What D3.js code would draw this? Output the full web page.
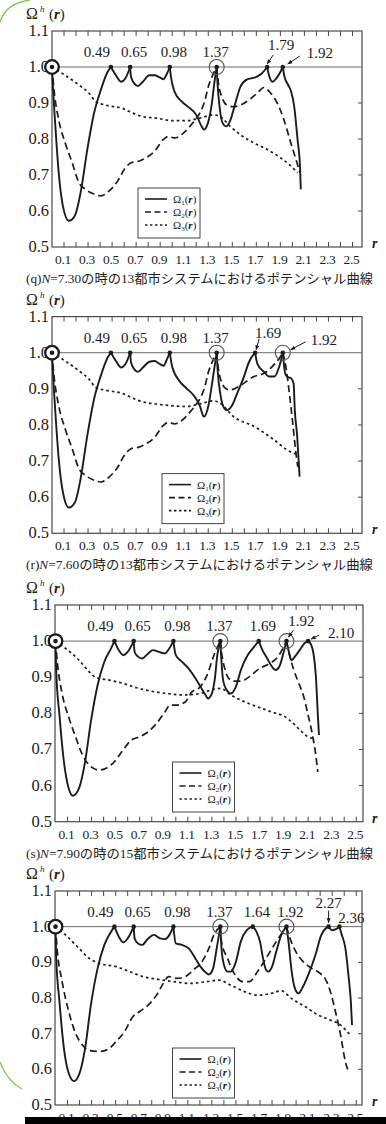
<!DOCTYPE html>
<html><head><meta charset="utf-8">
<script src="https://cdn.jsdelivr.net/npm/d3@7"></script>
<style>body{margin:0;background:#fff;} svg{display:block;}</style>
</head><body>
<svg id="c" width="386" height="1124"></svg>
<script>
// ---------- tick values / labels ----------
const xTickValues = [0.1,0.2,0.3,0.4,0.5,0.6,0.7,0.8,0.9,1.0,1.1,1.2,1.3,1.4,1.5,1.6,1.7,1.8,1.9,2.0,2.1,2.2,2.3,2.4,2.5];
const xTickLabels = ["0.1","0.3","0.5","0.7","0.9","1.1","1.3","1.5","1.7","1.9","2.1","2.3","2.5"];
const yTickLabels = ["1.1","1.0","0.9","0.8","0.7","0.6","0.5"];
const rightTickValues = [0.9,0.8,0.7,0.6];
const captions = [
  "(q)N=7.30の時の13都市システムにおけるポテンシャル曲線",
  "(r)N=7.60の時の13都市システムにおけるポテンシャル曲線",
  "(s)N=7.90の時の15都市システムにおけるポテンシャル曲線",
  ""
];
const legendNames = ["1","2","3"];

// ---------- panel (q) N=7.30 ----------
const qSolid = [[0,1.0],[0.008,0.945],[0.028,0.835],[0.056,0.706],[0.09,0.615],[0.14,0.573],[0.19,0.587],[0.238,0.651],[0.294,0.771],[0.35,0.872],[0.406,0.936],[0.462,0.986],[0.49,1.0],
 [0.532,0.977],[0.574,0.959],[0.61,0.968],[0.65,1.0],
 [0.658,0.972],[0.686,0.954],[0.714,0.947],[0.756,0.959],[0.81,0.977],[0.854,0.977],[0.896,0.971],[0.93,0.966],[0.95,0.977],[0.98,1.0],
 [0.99,0.972],[1.02,0.931],[1.08,0.904],[1.13,0.89],[1.2,0.867],[1.245,0.835],[1.265,0.826],[1.287,0.835],[1.33,0.899],[1.35,0.954],[1.37,1.0],
 [1.377,0.954],[1.394,0.89],[1.42,0.844],[1.45,0.835],[1.48,0.849],[1.525,0.899],[1.567,0.945],[1.62,0.965],[1.69,0.971],[1.745,0.982],[1.79,1.0],
 [1.805,0.977],[1.835,0.959],[1.865,0.968],[1.90,0.986],[1.92,1.0],
 [1.935,0.972],[1.965,0.95],[1.99,0.931],[2.015,0.89],[2.043,0.798],[2.063,0.725],[2.07,0.66]];
const qDashed = [[0,1.0],[0.014,0.945],[0.056,0.853],[0.11,0.789],[0.168,0.734],[0.224,0.679],[0.28,0.66],[0.35,0.647],[0.406,0.642],[0.476,0.656],[0.546,0.683],[0.602,0.716],[0.658,0.734],[0.728,0.739],[0.784,0.748],[0.854,0.766],[0.924,0.798],[0.966,0.807],[1.02,0.803],[1.078,0.812],[1.134,0.83],[1.19,0.853],[1.23,0.872],[1.273,0.908],[1.30,0.945],[1.33,0.972],[1.37,1.0],
 [1.385,0.954],[1.413,0.917],[1.455,0.894],[1.51,0.89],[1.567,0.894],[1.637,0.908],[1.707,0.927],[1.763,0.943],[1.82,0.927],[1.875,0.899],[1.93,0.853],[1.987,0.789],[2.03,0.743],[2.063,0.706]];
const qDotted = [[0,1.0],[0.11,0.977],[0.224,0.95],[0.308,0.927],[0.364,0.904],[0.448,0.894],[0.588,0.885],[0.672,0.872],[0.756,0.862],[0.868,0.858],[1.008,0.851],[1.12,0.851],[1.23,0.858],[1.343,0.867],[1.40,0.862],[1.483,0.835],[1.567,0.812],[1.68,0.789],[1.79,0.771],[1.90,0.748],[1.987,0.725],[2.043,0.706]];
const qPeaks = [0.49,0.65,0.98,1.37,1.79,1.92];
const qPeakLabels = ["0.49","0.65","0.98","1.37","1.79","1.92"];
const qRings = [1.37];

// ---------- panel (r) N=7.60 ----------
const rSolid = [[0,1.0],[0.008,0.945],[0.028,0.835],[0.056,0.706],[0.09,0.615],[0.14,0.571],[0.19,0.585],[0.238,0.651],[0.294,0.771],[0.35,0.872],[0.406,0.936],[0.462,0.986],[0.49,1.0],
 [0.532,0.977],[0.574,0.959],[0.61,0.968],[0.65,1.0],
 [0.658,0.972],[0.686,0.954],[0.714,0.947],[0.756,0.959],[0.81,0.975],[0.854,0.977],[0.896,0.969],[0.93,0.964],[0.95,0.977],[0.98,1.0],
 [1.0,0.961],[1.064,0.92],[1.12,0.901],[1.176,0.883],[1.232,0.851],[1.255,0.827],[1.266,0.823],[1.30,0.851],[1.336,0.924],[1.37,1.0],
 [1.378,0.952],[1.40,0.887],[1.434,0.846],[1.456,0.841],[1.50,0.855],[1.54,0.887],[1.597,0.934],[1.64,0.975],[1.69,1.0],
 [1.708,0.97],[1.764,0.947],[1.806,0.934],[1.85,0.934],[1.89,0.961],[1.92,1.0],
 [1.94,0.943],[1.955,0.934],[1.99,0.929],[2.01,0.915],[2.02,0.841],[2.04,0.768],[2.05,0.712],[2.06,0.657]];
const rDashed = [[0,1.0],[0.014,0.945],[0.056,0.853],[0.11,0.789],[0.168,0.734],[0.224,0.679],[0.28,0.66],[0.35,0.647],[0.406,0.642],[0.476,0.656],[0.546,0.683],[0.602,0.716],[0.658,0.734],[0.728,0.739],[0.784,0.748],[0.854,0.766],[0.924,0.798],[0.966,0.807],[1.02,0.803],[1.078,0.812],[1.134,0.83],[1.19,0.853],[1.23,0.872],[1.273,0.908],[1.30,0.945],[1.33,0.972],[1.37,1.0],
 [1.385,0.954],[1.413,0.917],[1.45,0.9],[1.48,0.897],[1.57,0.91],[1.68,0.934],[1.764,0.943],[1.83,0.961],[1.89,0.984],[1.92,1.0],
 [1.946,0.961],[1.975,0.887],[2.0,0.814],[2.03,0.721],[2.045,0.684]];
const rDotted = [[0,1.0],[0.11,0.977],[0.224,0.95],[0.308,0.927],[0.364,0.904],[0.448,0.896],[0.588,0.887],[0.672,0.874],[0.756,0.864],[0.868,0.858],[1.008,0.853],[1.12,0.851],[1.23,0.858],[1.343,0.867],[1.40,0.86],[1.51,0.823],[1.68,0.796],[1.85,0.758],[1.96,0.73],[2.045,0.717]];
const rPeaks = [0.49,0.65,0.98,1.37,1.69,1.92];
const rPeakLabels = ["0.49","0.65","0.98","1.37","1.69","1.92"];
const rRings = [1.37,1.92];

// ---------- panel (s) N=7.90 ----------
const sSolid = [[0,1.0],[0.005,0.924],[0.033,0.795],[0.07,0.666],[0.11,0.592],[0.145,0.572],[0.195,0.592],[0.246,0.666],[0.294,0.777],[0.35,0.878],[0.406,0.943],[0.462,0.98],[0.49,1.0],
 [0.526,0.975],[0.565,0.961],[0.60,0.97],[0.65,1.0],
 [0.658,0.97],[0.686,0.957],[0.72,0.952],[0.77,0.966],[0.81,0.975],[0.86,0.97],[0.91,0.966],[0.947,0.98],[0.98,1.0],
 [1.0,0.961],[1.05,0.943],[1.107,0.924],[1.163,0.897],[1.205,0.874],[1.247,0.851],[1.267,0.841],[1.295,0.851],[1.325,0.897],[1.345,0.961],[1.37,1.0],
 [1.378,0.952],[1.396,0.887],[1.424,0.864],[1.457,0.855],[1.5,0.874],[1.541,0.92],[1.597,0.961],[1.64,0.98],[1.69,1.0],
 [1.72,0.975],[1.76,0.952],[1.80,0.929],[1.83,0.92],[1.86,0.929],[1.89,0.961],[1.92,1.0],
 [1.94,0.97],[1.96,0.947],[1.99,0.957],[2.03,0.975],[2.07,0.994],[2.10,1.0],
 [2.125,0.99],[2.145,0.965],[2.165,0.9],[2.18,0.8],[2.19,0.74]];
const sDashed = [[0,1.0],[0.014,0.945],[0.056,0.853],[0.11,0.789],[0.168,0.734],[0.224,0.685],[0.28,0.657],[0.364,0.643],[0.42,0.648],[0.49,0.666],[0.56,0.698],[0.63,0.726],[0.70,0.735],[0.77,0.749],[0.84,0.772],[0.91,0.804],[0.953,0.823],[1.01,0.823],[1.08,0.832],[1.135,0.86],[1.19,0.869],[1.26,0.906],[1.317,0.961],[1.37,1.0],
 [1.38,0.97],[1.407,0.924],[1.44,0.897],[1.485,0.889],[1.54,0.889],[1.61,0.901],[1.696,0.924],[1.78,0.938],[1.85,0.957],[1.89,0.98],[1.92,1.0],
 [1.94,0.97],[1.977,0.924],[2.018,0.887],[2.06,0.85],[2.10,0.795],[2.136,0.74],[2.164,0.684],[2.18,0.638]];
const sDotted = [[0,1.0],[0.083,0.98],[0.196,0.947],[0.28,0.915],[0.336,0.899],[0.448,0.892],[0.56,0.883],[0.673,0.871],[0.785,0.862],[0.925,0.855],[1.065,0.851],[1.205,0.855],[1.317,0.867],[1.373,0.869],[1.457,0.851],[1.57,0.832],[1.68,0.818],[1.794,0.804],[1.906,0.791],[1.977,0.772],[2.047,0.749],[2.10,0.735],[2.145,0.73]];
const sPeaks = [0.49,0.65,0.98,1.37,1.69,1.92,2.10];
const sPeakLabels = ["0.49","0.65","0.98","1.37","1.69","1.92","2.10"];
const sRings = [1.37,1.92];

// ---------- panel 4 ----------
const tSolid = [[0,1.0],[0.005,0.92],[0.033,0.79],[0.07,0.659],[0.11,0.589],[0.154,0.567],[0.2,0.589],[0.246,0.659],[0.294,0.78],[0.35,0.883],[0.406,0.949],[0.462,0.986],[0.49,1.0],
 [0.526,0.972],[0.565,0.956],[0.6,0.967],[0.65,1.0],
 [0.658,0.967],[0.686,0.953],[0.72,0.949],[0.77,0.967],[0.818,0.977],[0.87,0.967],[0.91,0.965],[0.947,0.977],[0.98,1.0],
 [1.0,0.953],[1.05,0.949],[1.107,0.939],[1.163,0.911],[1.205,0.888],[1.247,0.872],[1.275,0.866],[1.31,0.883],[1.34,0.939],[1.37,1.0],
 [1.38,0.939],[1.4,0.893],[1.43,0.874],[1.457,0.874],[1.5,0.902],[1.54,0.958],[1.59,0.99],[1.64,1.0],
 [1.67,0.986],[1.70,0.958],[1.725,0.911],[1.75,0.879],[1.77,0.874],[1.80,0.888],[1.835,0.93],[1.877,0.977],[1.92,1.0],
 [1.94,0.949],[1.96,0.883],[1.99,0.827],[2.02,0.813],[2.05,0.827],[2.1,0.864],[2.16,0.92],[2.21,0.977],[2.245,0.995],[2.27,1.0],
 [2.30,0.99],[2.33,0.993],[2.36,1.0],
 [2.38,0.977],[2.41,0.939],[2.435,0.864],[2.455,0.79],[2.465,0.724]];
const tDashed = [[0,1.0],[0.013,0.939],[0.055,0.846],[0.11,0.762],[0.168,0.7],[0.224,0.668],[0.28,0.653],[0.364,0.65],[0.448,0.659],[0.504,0.678],[0.574,0.706],[0.644,0.748],[0.70,0.762],[0.77,0.78],[0.84,0.808],[0.896,0.841],[0.94,0.86],[1.008,0.855],[1.078,0.86],[1.148,0.879],[1.218,0.902],[1.275,0.939],[1.317,0.977],[1.37,1.0],
 [1.38,0.958],[1.43,0.911],[1.485,0.869],[1.555,0.846],[1.61,0.846],[1.68,0.874],[1.75,0.911],[1.835,0.958],[1.89,0.986],[1.92,1.0],
 [1.95,0.967],[1.99,0.935],[2.045,0.907],[2.13,0.883],[2.2,0.869],[2.24,0.855],[2.285,0.818],[2.327,0.762],[2.37,0.696],[2.41,0.621],[2.44,0.59]];
const tDotted = [[0,1.0],[0.083,0.977],[0.196,0.939],[0.28,0.911],[0.364,0.897],[0.504,0.888],[0.616,0.874],[0.728,0.86],[0.84,0.853],[0.98,0.846],[1.12,0.841],[1.26,0.846],[1.36,0.85],[1.457,0.836],[1.57,0.818],[1.68,0.808],[1.794,0.813],[1.877,0.82],[1.96,0.799],[2.074,0.776],[2.186,0.752],[2.285,0.738],[2.37,0.724],[2.45,0.696]];
const tPeaks = [0.49,0.65,0.98,1.37,1.64,1.92,2.27,2.36];
const tPeakLabels = ["0.49","0.65","0.98","1.37","1.64","1.92","2.27","2.36"];
const tRings = [1.37,1.92];

// ---------- layout (pixels, not data) ----------
const layouts = [
  {top:31,  bottom:247,  x0:52,   k:120.2, left:52, right:362, legX:86,
   special:{"1.79":{tx:14,ty:-17,a:[6,-12,0,-3]}, "1.92":{tx:37,ty:-9,a:[17,-11,5,-3]}}},
  {top:316.6, bottom:533.3, x0:52, k:120.2, left:52, right:362, legX:110,
   special:{"1.69":{tx:13,ty:-15,a:[4,-14,1,-3]}, "1.92":{tx:41,ty:-8,a:[23,-11,8,-3]}}},
  {top:605, bottom:821.7, x0:55.5, k:120.3, left:55, right:363, legX:117,
   special:{"1.92":{tx:15,ty:-15,a:[7,-11,2,-4]}, "2.10":{tx:33,ty:-3,a:[11,-6,3,-2]}}},
  {top:891, bottom:1105, x0:55.5, k:120.3, left:55, right:362, legX:117,
   special:{"2.27":{tx:0,ty:-19,a:[0,-16,0,-4]}, "2.36":{tx:12,ty:-4,a:null}}}
];
const panelData = [
  {solid:qSolid, dashed:qDashed, dotted:qDotted, peaks:qPeaks, labels:qPeakLabels, rings:qRings},
  {solid:rSolid, dashed:rDashed, dotted:rDotted, peaks:rPeaks, labels:rPeakLabels, rings:rRings},
  {solid:sSolid, dashed:sDashed, dotted:sDotted, peaks:sPeaks, labels:sPeakLabels, rings:sRings},
  {solid:tSolid, dashed:tDashed, dotted:tDotted, peaks:tPeaks, labels:tPeakLabels, rings:tRings}
];

const svg = d3.select("#c");
const SERIF = "'Liberation Serif','DejaVu Serif',serif";
const CJK = "'Liberation Serif','Noto Sans CJK JP',serif";
const INK = "#1c1c1c";

const defs = svg.append("defs");
defs.append("marker").attr("id","arr").attr("viewBox","0 0 10 10").attr("refX",9).attr("refY",5)
  .attr("markerWidth",5).attr("markerHeight",5).attr("orient","auto")
  .append("path").attr("d","M0,1 L10,5 L0,9 Z").attr("fill",INK);

function splitAtCusps(pts){
  const segs=[]; let cur=[pts[0]];
  for(let i=1;i<pts.length;i++){
    cur.push(pts[i]);
    if(pts[i][1]>=1 && i<pts.length-1){ segs.push(cur); cur=[pts[i]]; }
  }
  segs.push(cur); return segs;
}

function drawPanel(d, L, caption){
  const g = svg.append("g");
  const x = d3.scaleLinear().domain([0,1]).range([L.x0, L.x0+L.k]);
  const y = d3.scaleLinear().domain([0.5,1.1]).range([L.bottom, L.top]);

  g.append("rect").attr("x",L.left).attr("y",L.top).attr("width",L.right-L.left).attr("height",L.bottom-L.top)
    .attr("fill","none").attr("stroke","#4a4a4a").attr("stroke-width",1.2);
  g.append("line").attr("x1",L.left).attr("x2",L.right).attr("y1",y(1)).attr("y2",y(1))
    .attr("stroke","#6a6a6a").attr("stroke-width",1);

  const tk = g.append("g").attr("stroke","#4a4a4a").attr("stroke-width",1);
  xTickValues.forEach(v=>{
    tk.append("line").attr("x1",x(v)).attr("x2",x(v)).attr("y1",L.top).attr("y2",L.top+5);
    tk.append("line").attr("x1",x(v)).attr("x2",x(v)).attr("y1",L.bottom).attr("y2",L.bottom-5);
  });
  rightTickValues.forEach(v=>{
    tk.append("line").attr("x1",L.right).attr("x2",L.right-4).attr("y1",y(v)).attr("y2",y(v));
  });

  yTickLabels.forEach(s=>{
    g.append("text").attr("x",L.left-3).attr("y",y(+s)+5).attr("text-anchor","end")
      .attr("font-family",SERIF).attr("font-size",16.5).attr("fill",INK).text(s);
  });
  xTickLabels.forEach(s=>{
    g.append("text").attr("x",x(+s)-1).attr("y",L.bottom+17).attr("text-anchor","middle")
      .attr("font-family",SERIF).attr("font-size",13.5).attr("letter-spacing",-0.3).attr("fill",INK).text(s);
  });

  const line = d3.line().x(p=>x(p[0])).y(p=>y(p[1])).curve(d3.curveMonotoneX);
  const styles = [
    {key:"dotted", dash:"2.6,3", w:1.7},
    {key:"dashed", dash:"7,4", w:1.7},
    {key:"solid", dash:null, w:1.9}
  ];
  styles.forEach(st=>{
    splitAtCusps(d[st.key]).forEach(seg=>{
      g.append("path").attr("d",line(seg)).attr("fill","none").attr("stroke",INK)
        .attr("stroke-width",st.w).attr("stroke-dasharray",st.dash).attr("stroke-linejoin","round");
    });
  });

  d.rings.forEach(v=>{
    g.append("circle").attr("cx",x(v)).attr("cy",y(1)).attr("r",7.5)
      .attr("fill","none").attr("stroke","#555").attr("stroke-width",1.1);
  });
  d.peaks.forEach(v=>{
    g.append("circle").attr("cx",x(v)).attr("cy",y(1)).attr("r",2.3).attr("fill",INK);
  });
  g.append("circle").attr("cx",x(0)).attr("cy",y(1)).attr("r",6.8)
    .attr("fill","#fff").attr("stroke",INK).attr("stroke-width",2.3);
  g.append("circle").attr("cx",x(0)).attr("cy",y(1)).attr("r",2.3).attr("fill",INK);

  d.peaks.forEach((v,i)=>{
    const s = d.labels[i];
    const sp = L.special[s];
    const px = x(v), py = y(1);
    if(sp){
      g.append("text").attr("x",px+sp.tx).attr("y",py+sp.ty).attr("text-anchor","middle")
        .attr("font-family",SERIF).attr("font-size",15).attr("fill",INK).text(s);
      if(sp.a){
        g.append("line").attr("x1",px+sp.a[0]).attr("y1",py+sp.a[1]).attr("x2",px+sp.a[2]).attr("y2",py+sp.a[3])
          .attr("stroke",INK).attr("stroke-width",1).attr("marker-end","url(#arr)");
      }
    } else {
      const dx = s==="0.49" ? -14 : (s==="1.37" ? -1 : 4);
      g.append("text").attr("x",px+dx).attr("y",py-10).attr("text-anchor","middle")
        .attr("font-family",SERIF).attr("font-size",15).attr("fill",INK).text(s);
    }
  });

  const lx = L.x0 + L.legX, ly = L.top + 157;
  const lg = g.append("g");
  lg.append("rect").attr("x",lx).attr("y",ly).attr("width",62).attr("height",50)
    .attr("fill","#fff").attr("stroke","#444").attr("stroke-width",1);
  const legStyles = [null,"6,3.5","2.4,2.6"];
  legendNames.forEach((n,i)=>{
    const yy = ly + 11 + i*13;
    lg.append("line").attr("x1",lx+7).attr("x2",lx+29).attr("y1",yy).attr("y2",yy)
      .attr("stroke",INK).attr("stroke-width",1.6).attr("stroke-dasharray",legStyles[i]);
    const t = lg.append("text").attr("x",lx+35).attr("y",yy+4).attr("font-family",SERIF)
      .attr("font-size",11).attr("fill",INK);
    t.append("tspan").text("Ω");
    t.append("tspan").attr("font-size",7).attr("dy",2).text(n);
    t.append("tspan").attr("dy",-2).text("(");
    t.append("tspan").attr("font-style","italic").attr("font-weight","bold").text("r");
    t.append("tspan").text(")");
  });

  const ot = L.top - 12;
  g.append("text").attr("x",26).attr("y",ot).attr("font-family",SERIF).attr("font-size",16).attr("fill",INK).text("Ω");
  g.append("text").attr("x",40).attr("y",ot-7).attr("font-family",SERIF).attr("font-size",9)
    .attr("font-style","italic").attr("fill",INK).text("h");
  const pr = g.append("text").attr("x",49).attr("y",ot).attr("font-family",SERIF).attr("font-size",15).attr("fill",INK);
  pr.append("tspan").text("(");
  pr.append("tspan").attr("font-style","italic").attr("font-weight","bold").text("r");
  pr.append("tspan").text(")");
  g.append("text").attr("x",372).attr("y",L.bottom+1).attr("font-family",SERIF).attr("font-size",14)
    .attr("font-style","italic").attr("font-weight","bold").attr("fill",INK).text("r");

  if(caption){
    const c = g.append("text").attr("x",26).attr("y",L.bottom+36).attr("font-family",CJK)
      .attr("font-size",13).attr("fill",INK).attr("textLength",347).attr("lengthAdjust","spacingAndGlyphs");
    const m = caption.match(/^(\([a-z]\))(N)(.*)$/);
    c.append("tspan").text(m[1]);
    c.append("tspan").attr("font-style","italic").text(m[2]);
    c.append("tspan").text(m[3]);
  }
}

panelData.forEach((d,i)=>drawPanel(d, layouts[i], captions[i]));

svg.append("path").attr("d","M0,22 Q6,3 30,0").attr("fill","none").attr("stroke","#7cc84a").attr("stroke-width",1.3);
svg.append("path").attr("d","M0,1062 Q8,1082 22,1089").attr("fill","none").attr("stroke","#7cc84a").attr("stroke-width",1.3);
svg.append("rect").attr("x",25).attr("y",1117).attr("width",361).attr("height",7).attr("fill","#000");
</script>
</body></html>
